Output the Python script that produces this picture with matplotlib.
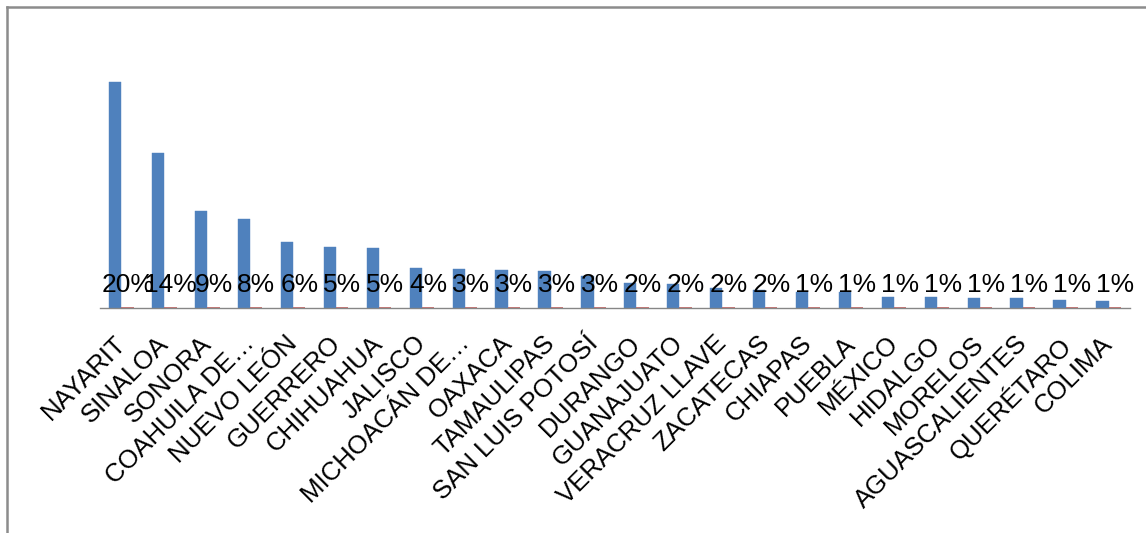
import matplotlib
matplotlib.use("Agg")
import matplotlib.pyplot as plt
import matplotlib.transforms as mtransforms
from matplotlib.lines import Line2D
import numpy as np

plt.rcParams['font.family'] = ['Liberation Sans', 'DejaVu Sans']

# States, ordered by count
estados = [
    'NAYARIT', 'SINALOA', 'SONORA', 'COAHUILA DE…', 'NUEVO LEÓN', 'GUERRERO',
    'CHIHUAHUA', 'JALISCO', 'MICHOACÁN DE…', 'OAXACA', 'TAMAULIPAS',
    'SAN LUIS POTOSÍ', 'DURANGO', 'GUANAJUATO', 'VERACRUZ LLAVE', 'ZACATECAS',
    'CHIAPAS', 'PUEBLA', 'MÉXICO', 'HIDALGO', 'MORELOS', 'AGUASCALIENTES',
    'QUERÉTARO', 'COLIMA',
]
casos = [226, 155, 97, 89, 66, 61, 60, 40, 39, 38, 37, 32,
         25, 24, 20, 18, 16, 16, 11, 11, 10, 10, 8, 7]
porcentaje = [0.20, 0.14, 0.09, 0.08, 0.06, 0.05, 0.05, 0.04, 0.03, 0.03, 0.03, 0.03,
              0.02, 0.02, 0.02, 0.02, 0.01, 0.01, 0.01, 0.01, 0.01, 0.01, 0.01, 0.01]

W, H = 1146, 533
fig = plt.figure(figsize=(W / 100, H / 100), dpi=100)
fig.patch.set_facecolor('white')

# chart-area frame (runs off the right and bottom edges)
frame_kw = dict(color='#8c8c8c', linewidth=1.8, transform=fig.transFigure)
fig.add_artist(Line2D([7 / W, 1.0], [1 - 7 / H, 1 - 7 / H], **frame_kw))
fig.add_artist(Line2D([7 / W, 7 / W], [1 - 7 / H, 0.0], **frame_kw))

ax = fig.add_axes([100 / W, (H - 308) / H, 1030 / W, 278 / H])

x = np.arange(len(estados))
bw = 0.286
ax.bar(x - bw / 2, casos, width=bw, color='#4F81BD', edgecolor='#4F81BD', linewidth=0.3)
ax.bar(x + bw / 2, porcentaje, width=bw, color='#C0504D', edgecolor='#C0504D', linewidth=1.1)

for xi, p in zip(x, porcentaje):
    ax.annotate(f'{p:.0%}', xy=(xi + bw / 2, p), xytext=(0, 11.5),
                textcoords='offset points', ha='center', va='baseline',
                fontsize=19, color='black')

ax.set_xlim(-0.5, len(estados) - 0.5)
ax.set_ylim(0, 278)
ax.set_yticks([])
ax.set_xticks(x)
ax.set_xticklabels(estados, rotation=45, ha='right', va='top',
                   rotation_mode='anchor', fontsize=18.5)
ax.tick_params(axis='x', length=0, pad=12.5)

# nudge the rotated category labels a little down and to the left
shift = mtransforms.ScaledTranslation(-8 / 100, -6 / 100, fig.dpi_scale_trans)
for lbl in ax.get_xticklabels():
    lbl.set_transform(lbl.get_transform() + shift)

for side in ('top', 'right', 'left'):
    ax.spines[side].set_visible(False)
ax.spines['bottom'].set_color('#868686')
ax.spines['bottom'].set_linewidth(1.0)
ax.patch.set_alpha(0)

fig.savefig('out.png', dpi=100, facecolor='white')
